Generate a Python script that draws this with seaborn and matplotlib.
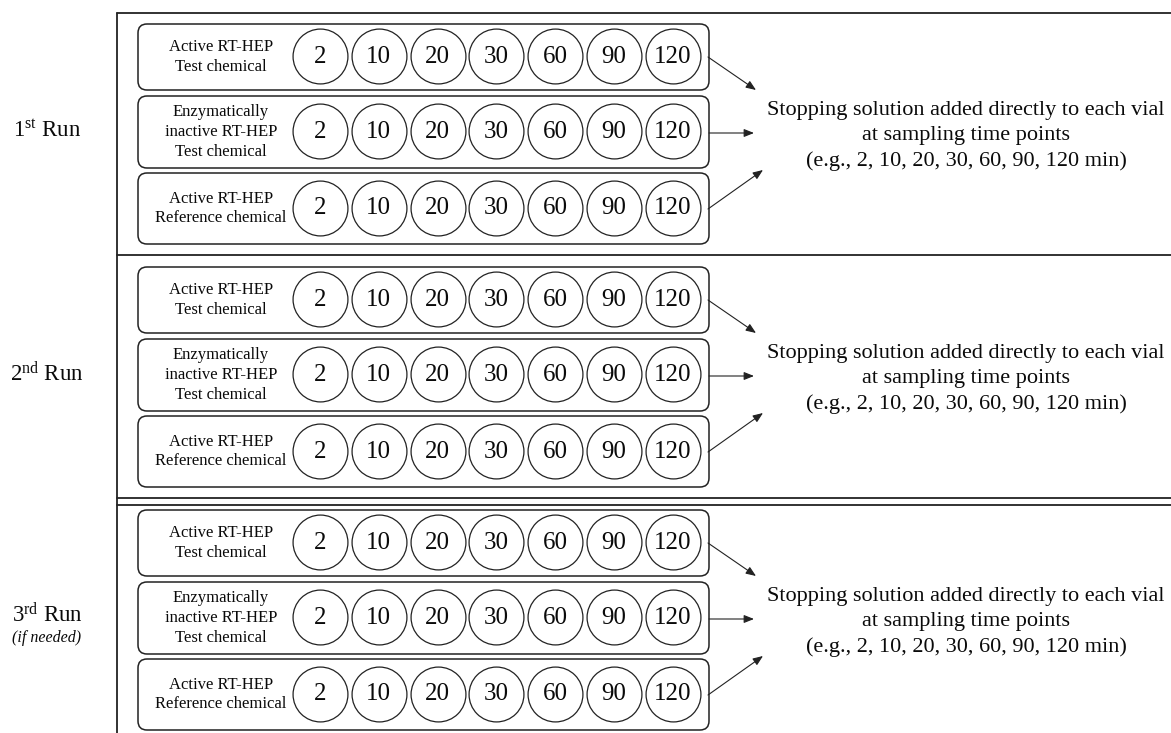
import matplotlib
matplotlib.use("Agg")
import matplotlib.pyplot as plt
from matplotlib.patches import FancyBboxPatch
import seaborn as sns
import pandas as pd

# ---- data ----
time_points = [2, 10, 20, 30, 60, 90, 120]
run_labels = [r"1$^{\mathrm{st}}$ Run", r"2$^{\mathrm{nd}}$ Run", r"3$^{\mathrm{rd}}$ Run"]
run_notes = ["", "", "(if needed)"]
row_labels = ["Active RT-HEP\nTest chemical",
              "Enzymatically\ninactive RT-HEP\nTest chemical",
              "Active RT-HEP\nReference chemical"]
outcome_text = ("Stopping solution added directly to each vial\n"
                "at sampling time points\n"
                "(e.g., 2, 10, 20, 30, 60, 90, 120 min)")

sns.set_theme(style="white")
plt.rcParams['font.family'] = ['Liberation Serif', 'DejaVu Serif']
plt.rcParams['mathtext.fontset'] = 'custom'
plt.rcParams['mathtext.rm'] = 'Liberation Serif'
plt.rcParams['mathtext.it'] = 'Liberation Serif:italic'

W, H = 1171, 733
fig = plt.figure(figsize=(W / 100, H / 100), dpi=100)
ax = fig.add_axes([0, 0, 1, 1])

LC = "#222222"
TC = "#0a0a0a"

group_base = [24, 267, 510]
row_off = [0, 72, 149]
row_h = [66, 72, 71]
box_x0, box_x1 = 138, 709
circ_x0, circ_dx = 320, 58.8

# circles via seaborn
recs = []
for g, base in enumerate(group_base):
    for r in range(3):
        cy = base + row_off[r] + row_h[r] / 2 - 1
        for i, t in enumerate(time_points):
            recs.append(dict(x=circ_x0 + i * circ_dx, y=cy, t=t))
df = pd.DataFrame(recs)

for g, base in enumerate(group_base):
    for r in range(3):
        y0 = base + row_off[r]
        h = row_h[r]
        pad = 9
        ax.add_patch(FancyBboxPatch((box_x0 + pad, y0 + pad), box_x1 - box_x0 - 2 * pad, h - 2 * pad,
                                    boxstyle=f"round,pad={pad}", fc="white", ec=LC, lw=1.1, zorder=1))
        ax.text(221, y0 + h / 2, row_labels[r], ha="center", va="center", fontsize=12,
                color=TC, linespacing=1.33, zorder=3)
    # run labels
    ly = base + 107
    if run_notes[g]:
        ax.text(47, ly - 2, run_labels[g], ha="center", va="center", fontsize=16.5, color=TC)
        ax.text(47, ly + 21, run_notes[g], ha="center", va="center", fontsize=11.5,
                style="italic", color=TC)
    else:
        ax.text(47, ly, run_labels[g], ha="center", va="center", fontsize=16.5, color=TC)
    # arrows
    arr = [((708, base + 33), (756, base + 66)),
           ((709, base + 109), (754, base + 109)),
           ((708, base + 185), (763, base + 146))]
    for (s, e) in arr:
        ax.annotate("", xy=e, xytext=s,
                    arrowprops=dict(arrowstyle="-|>,head_length=0.5,head_width=0.2",
                                    color=LC, lw=0.8, shrinkA=0, shrinkB=0), zorder=3)
    ax.text(966, base + 112, outcome_text, ha="center", va="center", fontsize=16,
            color=TC, linespacing=1.45)

sns.scatterplot(data=df, x="x", y="y", s=1560, marker="o", facecolor="white",
                edgecolor=LC, linewidth=0.9, ax=ax, legend=False, zorder=2)
for xv, yv, tv in zip(df["x"], df["y"], df["t"]):
    ax.text(xv, yv + 1, str(int(tv)), ha="center", va="center", fontsize=18, color=TC, zorder=4)

# frame lines
flw = 1.3
ax.plot([117, 117], [13, H], color=LC, lw=flw, zorder=5)
ax.plot([117, W], [13, 13], color=LC, lw=flw, zorder=5)
ax.plot([117, W], [255, 255], color=LC, lw=flw, zorder=5)
ax.plot([117, W], [498, 498], color=LC, lw=flw, zorder=5)
ax.plot([117, W], [505, 505], color=LC, lw=flw, zorder=5)

ax.set_xlim(0, W)
ax.set_ylim(H, 0)
ax.axis("off")
fig.savefig("out.png", dpi=100, facecolor="white")
